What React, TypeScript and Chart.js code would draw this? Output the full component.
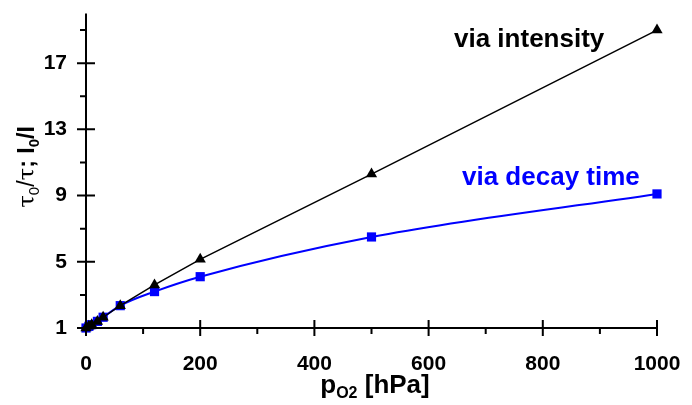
import React, { useEffect, useRef } from "react";
import { Chart, registerables } from "chart.js";

Chart.register(...registerables);

// ---- data ----
const pO2 = [0, 5, 10, 20, 30, 60, 120, 200, 500, 1000];
const viaIntensity = [1, 1.1, 1.2, 1.4, 1.65, 2.35, 3.6, 5.15, 10.3, 19.0];
const viaDecayTime = [1, 1.1, 1.2, 1.4, 1.65, 2.35, 3.2, 4.1, 6.5, 9.1];
const xMajorTicks = [0, 200, 400, 600, 800, 1000];
const xMinorTicks = [100, 300, 500, 700, 900];
const yMajorTicks = [1, 5, 9, 13, 17];
const yMinorTicks = [3, 7, 11, 15, 19];
const labelIntensity = "via intensity";
const labelDecay = "via decay time";

const zeroPad = (s: any) => {
  s.paddingTop = 0;
  s.paddingBottom = 0;
  s.paddingLeft = 0;
  s.paddingRight = 0;
};

const axesPlugin = {
  id: "customAxes",
  afterDraw(chart: any) {
    const ctx = chart.ctx;
    const xs = chart.scales.x;
    const ys = chart.scales.y;
    const ax = xs.getPixelForValue(0);
    const ay = ys.getPixelForValue(1);
    ctx.save();
    ctx.strokeStyle = "#000";
    ctx.lineWidth = 2;
    ctx.lineCap = "butt";
    // axis lines
    ctx.beginPath();
    ctx.moveTo(ax, ys.getPixelForValue(ys.max));
    ctx.lineTo(ax, ay + 1);
    ctx.moveTo(ax - 1, ay);
    ctx.lineTo(xs.getPixelForValue(xs.max) + 1, ay);
    // y ticks
    yMajorTicks.forEach((v) => {
      const p = ys.getPixelForValue(v);
      ctx.moveTo(ax - 9, p);
      ctx.lineTo(ax + 9, p);
    });
    yMinorTicks.forEach((v) => {
      const p = ys.getPixelForValue(v);
      ctx.moveTo(ax - 6, p);
      ctx.lineTo(ax, p);
    });
    xMajorTicks.forEach((v) => {
      const p = xs.getPixelForValue(v);
      ctx.moveTo(p, ay - 8);
      ctx.lineTo(p, ay + 8);
    });
    xMinorTicks.forEach((v) => {
      const p = xs.getPixelForValue(v);
      ctx.moveTo(p, ay);
      ctx.lineTo(p, ay + 6);
    });
    ctx.stroke();

    // x title: p_O2 [hPa]
    const big = "bold 26px 'Liberation Sans', Arial, sans-serif";
    const small = "bold 16px 'Liberation Sans', Arial, sans-serif";
    ctx.fillStyle = "#000";
    ctx.textBaseline = "alphabetic";
    ctx.textAlign = "left";
    ctx.font = big;
    const wP = ctx.measureText("p").width;
    const wRest = ctx.measureText(" [hPa]").width;
    ctx.font = small;
    const wSub = ctx.measureText("O2").width;
    const total = wP + wSub + wRest;
    let tx = 375 - total / 2;
    const by = 393;
    ctx.font = big;
    ctx.fillText("p", tx, by);
    tx += wP;
    ctx.font = small;
    ctx.fillText("O2", tx, by + 5);
    tx += wSub;
    ctx.font = big;
    ctx.fillText(" [hPa]", tx, by);

    // y title: τ0/τ; I0/I (rotated)
    const pieces = [
      { t: "\u03c4", f: "23px 'DejaVu Serif', 'Liberation Serif', serif", d: 0 },
      { t: "0", f: "15px 'Liberation Sans', Arial, sans-serif", d: 5 },
      { t: "/", f: "23px 'Liberation Sans', Arial, sans-serif", d: 0 },
      { t: "\u03c4", f: "23px 'DejaVu Serif', 'Liberation Serif', serif", d: 0 },
      { t: "; I", f: "bold 23px 'Liberation Sans', Arial, sans-serif", d: 0 },
      { t: "0", f: "bold 15px 'Liberation Sans', Arial, sans-serif", d: 5 },
      { t: "/I", f: "bold 23px 'Liberation Sans', Arial, sans-serif", d: 0 },
    ];
    let w = 0;
    pieces.forEach((p) => {
      ctx.font = p.f;
      w += ctx.measureText(p.t).width;
    });
    ctx.translate(34, 167);
    ctx.rotate(-Math.PI / 2);
    let px = -w / 2;
    pieces.forEach((p) => {
      ctx.font = p.f;
      ctx.fillText(p.t, px, p.d);
      px += ctx.measureText(p.t).width;
    });
    ctx.setTransform(1, 0, 0, 1, 0, 0);

    // annotations
    ctx.font = "bold 26px 'Liberation Sans', Arial, sans-serif";
    ctx.fillStyle = "#000";
    ctx.fillText(labelIntensity, 454, 47);
    ctx.fillStyle = "#0000ff";
    ctx.fillText(labelDecay, 462, 185);
    ctx.restore();
  },
};

export default function App() {
  const ref = useRef<HTMLCanvasElement | null>(null);
  useEffect(() => {
    document.body.style.margin = "0";
    const canvas = ref.current;
    if (!canvas) return;
    const chart = new Chart(canvas, {
      type: "line",
      data: {
        datasets: [
          {
            label: labelIntensity,
            data: pO2.map((x, i) => ({ x, y: viaIntensity[i] })),
            borderColor: "#000",
            backgroundColor: "#000",
            borderWidth: 1.5,
            pointStyle: "triangle",
            pointRadius: 6.5,
            pointBorderWidth: 0,
            tension: 0,
            clip: false,
          },
          {
            label: labelDecay,
            data: pO2.map((x, i) => ({ x, y: viaDecayTime[i] })),
            borderColor: "#0000ff",
            backgroundColor: "#0000ff",
            borderWidth: 2,
            pointStyle: "rect",
            pointRadius: 6.5,
            pointBorderWidth: 0,
            cubicInterpolationMode: "monotone",
            clip: false,
          },
        ],
      },
      options: {
        animation: false,
        responsive: true,
        maintainAspectRatio: false,
        layout: { padding: { left: 0, right: 35, top: 13.5, bottom: 0 } },
        plugins: { legend: { display: false }, tooltip: { enabled: false } },
        scales: {
          x: {
            type: "linear",
            min: 0,
            max: 1000,
            grid: { display: false, drawTicks: false },
            border: { display: false },
            afterFit: (s: any) => {
              s.height = 77;
              zeroPad(s);
            },
            afterBuildTicks: (s: any) => {
              s.ticks = xMajorTicks.map((v) => ({ value: v }));
            },
            ticks: {
              padding: 24,
              color: "#000",
              font: { family: "'Liberation Sans', Arial, sans-serif", size: 21, weight: "bold" },
              maxRotation: 0,
              callback: (v: any) => String(v),
            },
          },
          y: {
            type: "linear",
            min: 1,
            max: 20,
            grid: { display: false, drawTicks: false },
            border: { display: false },
            afterFit: (s: any) => {
              s.width = 86;
              zeroPad(s);
            },
            afterBuildTicks: (s: any) => {
              s.ticks = yMajorTicks.map((v) => ({ value: v }));
            },
            ticks: {
              padding: 19,
              color: "#000",
              font: { family: "'Liberation Sans', Arial, sans-serif", size: 21, weight: "bold" },
              callback: (v: any) => String(v),
            },
          },
        },
      },
      plugins: [axesPlugin],
    } as any);
    return () => chart.destroy();
  }, []);
  return (
    <div style={{ position: "absolute", left: 0, top: 0, width: 692, height: 405 }}>
      <canvas ref={ref} />
    </div>
  );
}
